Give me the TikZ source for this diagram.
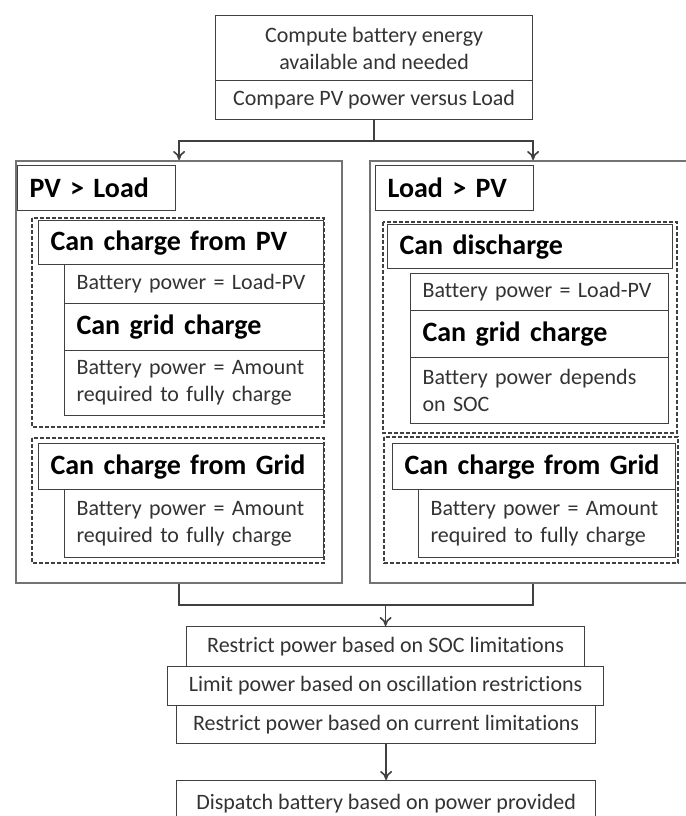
\documentclass[tikz,border=0pt]{standalone}
\usepackage{fontspec}
\setmainfont{Carlito}[Ligatures=NoCommon]
\usepackage{tikz}
\usetikzlibrary{arrows.meta}
\definecolor{boxline}{rgb}{0.25,0.25,0.25}
\definecolor{sideline}{rgb}{0.45,0.45,0.45}
\definecolor{inktext}{rgb}{0.2,0.2,0.2}
\tikzset{
  cell/.style={draw=boxline, fill=white, line width=0.6pt, text=inktext,
    inner xsep=6pt, inner ysep=0pt, anchor=north west, align=left,
    font=\fontsize{11}{13.4}\selectfont},
  midcell/.style={cell, align=center, inner xsep=0pt},
  headcell/.style={cell, text=black, font=\fontsize{14}{16}\selectfont\bfseries},
  side/.style={draw=sideline, line width=1.1pt, fill=white, anchor=north west, inner sep=0pt},
  group/.style={draw=boxline, line width=0.7pt, dash pattern=on 2pt off 1pt},
  link/.style={draw=boxline, line width=0.8pt},
  arr/.style={link, -{To[length=4.5pt, width=6pt]}},
}

\begin{document}
\begin{tikzpicture}[x=0.5pt, y=0.5pt]
                \path[use as bounding box, clip] (0,0) rectangle (686,816);

                % top of the chart
                \node[midcell, minimum width=158.5pt, minimum height=32.5pt] (energy) at (215,801)
                    {Compute battery energy\\available and needed};
                \node[midcell, minimum width=158.5pt, minimum height=19.5pt] (compare) at (215,736)
                    {Compare PV power versus Load};

                % the two cases
                \node[side, minimum width=163pt, minimum height=211pt] (pvside) at (15,656) {};
                \node[side, minimum width=163pt, minimum height=211pt] (loadside) at (369,656) {};
                \node[headcell, text width=67pt, minimum height=22.5pt] (pvhead) at (17,651) {PV > Load};
                \node[headcell, text width=67pt, minimum height=22.5pt] (loadhead) at (375,651) {Load > PV};

                % 1. PV > Load
                \draw[group] (32,598) rectangle (324,389);
                \node[headcell, text width=130.5pt, minimum height=22pt] (pvcharge) at (38,596) {Can charge from PV};
                \node[cell, text width=117.5pt, minimum height=19.5pt] (pvbat) at (64,552) {Battery power = Load-PV};
                \node[headcell, text width=117.5pt, minimum height=23.5pt] (pvgrid) at (64,513) {Can grid charge};
                \node[cell, text width=117.5pt, minimum height=32.5pt] (pvamount) at (64,466)
                    {Battery power = Amount\\required to fully charge};
                \draw[group] (32,378) rectangle (324,253);
                \node[headcell, text width=130.5pt, minimum height=23pt] (pvfromgrid) at (38,373) {Can charge from Grid};
                \node[cell, text width=117.5pt, minimum height=34pt] (pvgridamount) at (64,327)
                    {Battery power = Amount\\required to fully charge};

                % 2. Load > PV
                \draw[group] (383,594) rectangle (677,383);
                \node[headcell, text width=130.5pt, minimum height=22pt] (loaddis) at (387,592) {Can discharge};
                \node[cell, text width=117pt, minimum height=18.5pt] (loadbat) at (410,543) {Battery power = Load-PV};
                \node[headcell, text width=117pt, minimum height=23.5pt] (loadgrid) at (410,506) {Can grid charge};
                \node[cell, text width=117pt, minimum height=33pt] (loadsoc) at (410,459)
                    {Battery power depends\\on SOC};
                \draw[group] (384,379) rectangle (678,253);
                \node[headcell, text width=129.5pt, minimum height=23pt] (loadfromgrid) at (392,373) {Can charge from Grid};
                \node[cell, text width=116.5pt, minimum height=34pt] (loadgridamount) at (418,327)
                    {Battery power = Amount\\required to fully charge};

                % limits and dispatch
                \node[midcell, minimum width=199pt, minimum height=20pt] (socbox) at (186,190)
                    {Restrict power based on SOC limitations};
                \node[midcell, minimum width=209.5pt, minimum height=19pt] (curbox) at (176,111)
                    {Restrict power based on current limitations};
                \node[midcell, minimum width=218pt, minimum height=19.5pt] (oscbox) at (167,150)
                    {Limit power based on oscillation restrictions};
                \node[midcell, minimum width=209.5pt, minimum height=23pt] (dispatch) at (176,36)
                    {Dispatch battery based on power provided};

                % connectors
                \draw[link] (compare.south) -- ++(0,-21) coordinate (split);
                \draw[arr] (split) -| (pvside.north);
                \draw[arr] (split) -| (loadside.north);
                \draw[link] (pvside.south) -- ++(0,-21) coordinate (merge) -| (loadside.south);
                \draw[arr] (merge -| socbox.north) -- (socbox.north);
                \draw[arr] (curbox.south) -- (dispatch.north);
            \end{tikzpicture}
\end{document}
